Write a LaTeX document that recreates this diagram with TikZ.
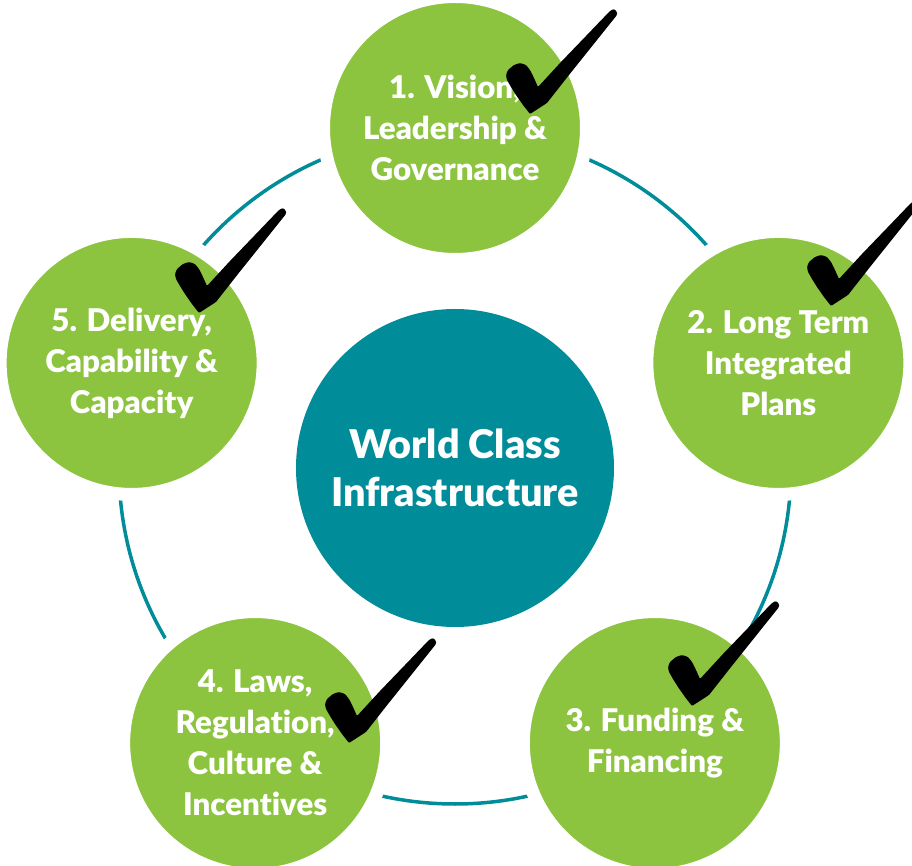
\documentclass[tikz,border=0pt]{standalone}
\usepackage{fontspec}
\setmainfont{Lato}[BoldFont={Lato Black}, Ligatures=NoCommon]
\definecolor{wcgreen}{HTML}{8CC43F}
\definecolor{wcteal}{HTML}{008C99}
\tikzset{
  hub/.style={circle, fill=wcteal, inner sep=0pt, minimum size=6.36cm,
    text=white, align=center, font=\fontsize{22.5}{27}\selectfont\bfseries},
  pillar/.style={circle, fill=wcgreen, draw=white, line width=0.26cm,
    inner sep=0pt, minimum size=5.26cm, text=white, align=center,
    font=\fontsize{17.8}{23.3}\selectfont\bfseries},
  tick/.pic={
    \fill[black, x=0.02cm, y=0.02cm, rounded corners=0.6pt]
      (-1,-1) -- (-8,8) -- (-15,18) -- (-20,26) -- (-24,33) -- (-25,38)
      -- (-23,43) -- (-17,48) -- (-11,50) -- (-5,48) -- (-1,43) -- (3,35)
      -- (7,26) -- (30,51) -- (55,77) -- (79,102) -- (83,104) -- (86,101)
      -- (86,98) -- (62,68) -- (38,38) -- (16,10) -- cycle;
  }
}
\begin{document}
\begin{tikzpicture}
            \useasboundingbox (-9.1,-7.96) rectangle (9.14,9.36);
            % thin ring behind the five pillars
            \draw[wcteal, line width=0.07cm] (0,0) circle (6.72);
            \node[hub] (hub) at (0,0) {World Class\\Infrastructure};
            \node[pillar] (p1) at (90:6.8) {1. Vision,\\Leadership \&\\Governance};
            \node[pillar] (p2) at (18:6.8) {2. Long Term\\Integrated\\Plans};
            \node[pillar] (p3) at (-54:6.8) {3. Funding \&\\Financing};
            \node[pillar] (p4) at (-126:6.8) {4. Laws,\\Regulation,\\Culture \&\\Incentives};
            \node[pillar] (p5) at (162:6.8) {5. Delivery,\\Capability \&\\Capacity};
            % ticks
            \pic at (1.52,7.10) {tick};
            \pic at (7.54,3.26) {tick};
            \pic at (4.76,-4.74) {tick};
            \pic at (-2.10,-5.48) {tick};
            \pic at (-5.10,3.12) {tick};
\end{tikzpicture}
\end{document}
